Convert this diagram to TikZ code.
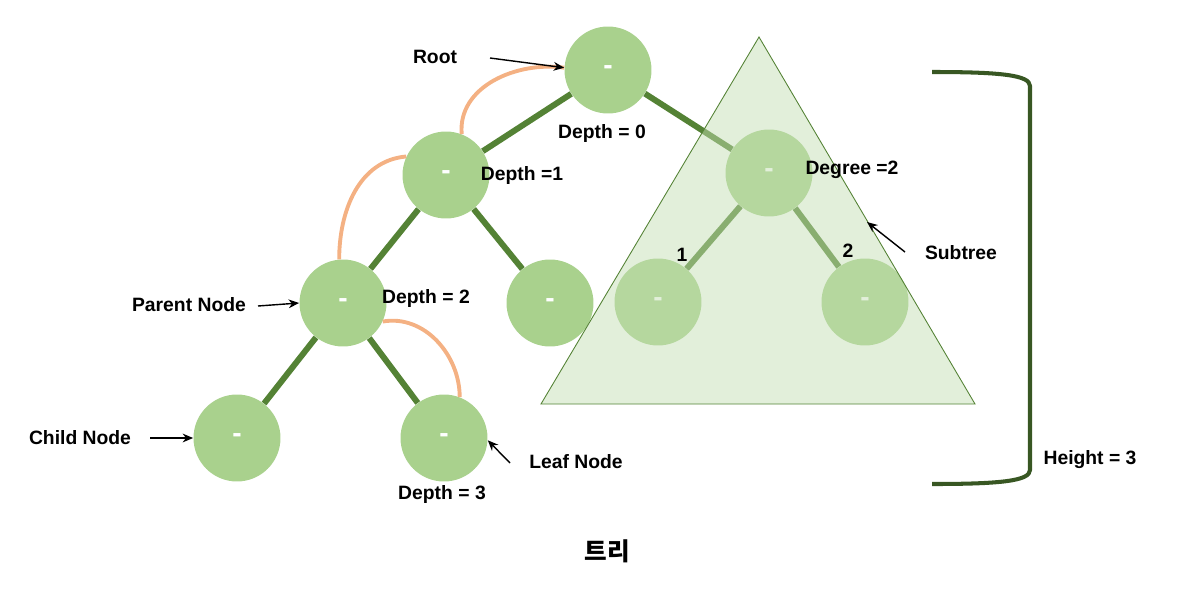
\documentclass[tikz,border=0pt]{standalone}
\usepackage{fontspec}
\setmainfont{Liberation Sans}
\newfontfamily\kofont{Noto Sans CJK KR}
\usetikzlibrary{arrows.meta}
\definecolor{nodegreen}{RGB}{169,209,141}
\definecolor{edgegreen}{RGB}{84,130,53}
\definecolor{arcorange}{RGB}{244,177,131}
\definecolor{trigreen}{RGB}{195,222,178}
\definecolor{bracketgreen}{RGB}{56,87,35}

\begin{document}
\begin{tikzpicture}[x=0.02cm,y=-0.02cm,
    treenode/.style={circle,fill=nodegreen,minimum size=1.74cm,inner sep=0pt,text=white,font=\fontsize{16}{18}\selectfont\bfseries},
    treeedge/.style={draw=edgegreen,line width=3.4pt},
    orangearc/.style={draw=arcorange,line width=2.2pt},
    lbl/.style={font=\fontsize{11}{13}\selectfont\bfseries},
    pointer/.style={-{Stealth[length=6pt,width=5pt]},line width=0.8pt}]
    \useasboundingbox (0,0) rectangle (1201,589);

    \node[treenode] (root) at (608,70) {-};
    \node[treenode] (d1) at (446,175) {-};
    \node[treenode] (d2) at (343,303) {-};
    \node[treenode] (mid) at (550,303) {-};
    \node[treenode] (child) at (237,438) {-};
    \node[treenode] (leaf) at (444,438) {-};
    \node[treenode] (deg) at (769,173) {-};
    \node[treenode] (one) at (658,302) {-};
    \node[treenode] (two) at (865,302) {-};

    \draw[treeedge] (root) -- (d1);
    \draw[treeedge] (root) -- (deg);
    \draw[treeedge] (d1) -- (d2);
    \draw[treeedge] (d1) -- (mid);
    \draw[treeedge] (d2) -- (child);
    \draw[treeedge] (d2) -- (leaf);
    \draw[treeedge] (deg) -- (one);
    \draw[treeedge] (deg) -- (two);

    \draw[orangearc] (d1.69) to[out=95,in=172] (root.177);
    \draw[orangearc] (d2.95) to[out=90,in=185] (d1.155);
    \draw[orangearc] (d2.-25) to[out=10,in=90] (leaf.69);

    \coordinate (apex) at (759,37);
    \coordinate (baseR) at (975,404);
    \coordinate (baseL) at (541,404);
    \filldraw[fill=trigreen,fill opacity=0.48,draw=edgegreen,line width=0.5pt] (apex) -- (baseR) -- (baseL) -- cycle;

    \draw[bracketgreen,line width=2.3pt] (932,72) .. controls (1000,72) and (1030,75) .. (1030,86) -- (1030,470) .. controls (1030,481) and (1000,484) .. (932,484);

    \node[lbl] (rootlbl) at (435,57) {Root};
    \node[lbl] at (602,133) {Depth = 0};
    \node[lbl] at (522,175) {Depth =1};
    \node[lbl] at (852,170) {Degree =2};
    \node[lbl] (subtreelbl) at (961,253) {Subtree};
    \node[lbl] at (682,255) {1};
    \node[lbl] at (848,251) {2};
    \node[lbl] (parentlbl) at (189,305) {Parent Node};
    \node[lbl] at (426,298) {Depth = 2};
    \node[lbl] (childlbl) at (80,438) {Child Node};
    \node[lbl] (leaflbl) at (576,462) {Leaf Node};
    \node[lbl] at (442,494) {Depth = 3};
    \node[lbl] at (1090,460) {Height = 3};
    \node[font=\kofont\fontsize{14}{16}\selectfont\bfseries] at (607,551) {트리};

    \coordinate (rootfrom) at (490,58);
    \coordinate (parentfrom) at (258,306);
    \coordinate (childfrom) at (150,438);
    \coordinate (leaffrom) at (510,463);
    \coordinate (subtreefrom) at (905,252);
    \coordinate (subtreeto) at (867,222);
    \draw[pointer] (rootfrom) -- (root.177);
    \draw[pointer] (parentfrom) -- (d2.180);
    \draw[pointer] (childfrom) -- (child.180);
    \draw[pointer] (leaffrom) -- (leaf.-3);
    \draw[pointer] (subtreefrom) -- (subtreeto);
\end{tikzpicture}
\end{document}
